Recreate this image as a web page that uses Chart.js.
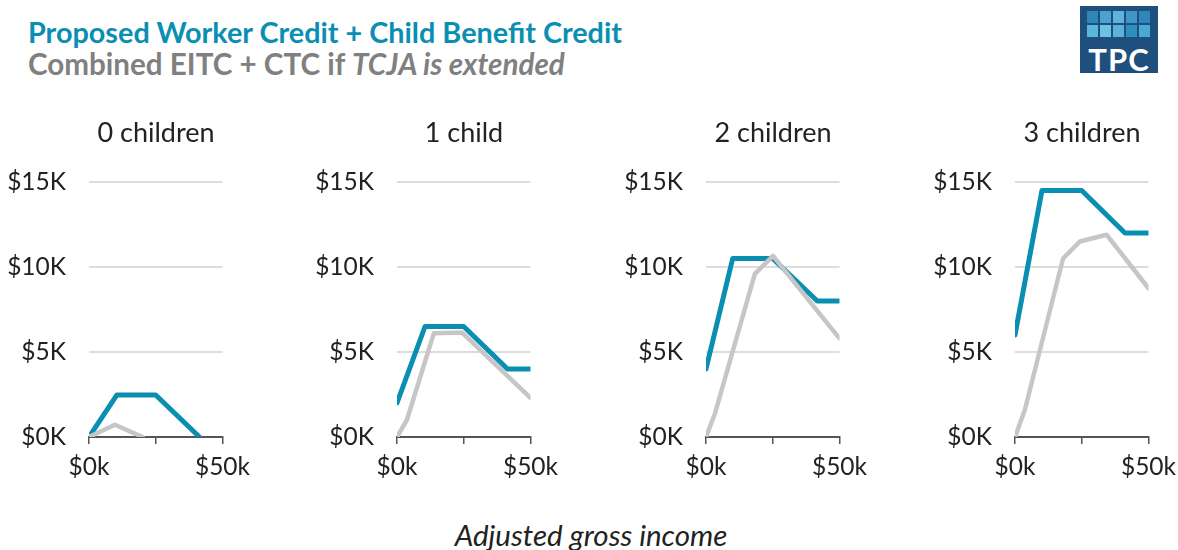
<!DOCTYPE html>
<html lang="en">
<head>
<meta charset="UTF-8">
<title>Worker Credit + Child Benefit Credit</title>
<script src="https://cdn.jsdelivr.net/npm/chart.js@4"></script>
<style>
  body { margin: 0; width: 1178px; height: 550px; overflow: hidden; background: #fff; font-family: Lato, sans-serif; position: relative; }
  .title { position: absolute; left: 28px; top: 18px; font-size: 28.8px; line-height: 1; font-weight: bold; color: #0a8fb2; white-space: nowrap; }
  .subtitle { position: absolute; left: 28px; top: 49px; font-size: 29.6px; line-height: 1; font-weight: bold; color: #808080; white-space: nowrap; }
  .panel { position: absolute; top: 100px; width: 258px; height: 390px; }
  .ptitle { position: absolute; top: 118px; width: 200px; text-align: center; font-size: 27px; line-height: 1; color: #222; }
  .xlabel { position: absolute; left: 0; width: 1182px; top: 520px; text-align: center; font-size: 29.5px; line-height: 1; font-style: italic; color: #222; }
  .logo { position: absolute; left: 1080px; top: 6px; width: 78px; height: 67px; background: #1e4f7d; }
  .logo .sq { position: absolute; width: 11px; height: 12px; }
  .logo .txt { position: absolute; left: 0; width: 78px; top: 38px; line-height: 1; text-align: center; color: #fff; font-weight: bold; font-size: 31px; letter-spacing: 1px; }
</style>
</head>
<body>
<div class="title">Proposed Worker Credit + Child Benefit Credit</div>
<div class="subtitle">Combined EITC + CTC if <i>TCJA is extended</i></div>
<div class="logo" id="logo"><div class="txt">TPC</div></div>

<div class="panel" style="left:0px"><canvas id="c0" width="258" height="390"></canvas></div>
<div class="panel" style="left:308px"><canvas id="c1" width="258" height="390"></canvas></div>
<div class="panel" style="left:617px"><canvas id="c2" width="258" height="390"></canvas></div>
<div class="panel" style="left:926px"><canvas id="c3" width="258" height="390"></canvas></div>

<div class="xlabel">Adjusted gross income</div>

<script>
// panel titles
var panelTitles = ['0 children', '1 child', '2 children', '3 children'];
var panelLeft = [0, 308, 617, 926];

// proposed worker credit + child benefit credit (blue)
var wcX0 = [0, 10400, 25000, 41400];
var wcY0 = [0, 2470, 2470, 0];
var wcX1 = [0, 10500, 25000, 41400, 50000];
var wcY1 = [2000, 6500, 6500, 4000, 4000];
var wcX2 = [0, 10000, 25000, 41700, 50000];
var wcY2 = [4000, 10500, 10500, 8000, 8000];
var wcX3 = [0, 10100, 25000, 41200, 50000];
var wcY3 = [6000, 14500, 14500, 12000, 12000];

// combined EITC + CTC if TCJA extended (gray)
var ctX0 = [0, 9700, 20100];
var ctY0 = [0, 720, 0];
var ctX1 = [0, 3700, 13800, 24300, 50000];
var ctY1 = [0, 1000, 6100, 6150, 2300];
var ctX2 = [0, 3400, 18300, 25100, 50000];
var ctY2 = [0, 1400, 9600, 10650, 5800];
var ctX3 = [0, 3700, 18000, 24300, 34300, 50000];
var ctY3 = [0, 1600, 10500, 11500, 11900, 8750];

// axis ticks
var yTicks = [0, 5000, 10000, 15000];
var xTicks = [0, 25000, 50000];

var blue = '#0a8fb2';
var gray = '#c6c6c6';

// logo squares
var sqColors = ['#2f87b9', '#4aa3cf', '#5db4da', '#3e97c5', '#2f87b9',
                '#5ab7dc', '#6cc3e0', '#5cb3d9', '#2e8fbe', '#4aa9d3'];
var logo = document.getElementById('logo');
for (var i = 0; i < sqColors.length; i++) {
    var d = document.createElement('div');
    d.className = 'sq';
    d.style.left = (7 + (i % 5) * 13) + 'px';
    d.style.top = (5 + Math.floor(i / 5) * 14) + 'px';
    d.style.background = sqColors[i];
    logo.appendChild(d);
}

function pts(xs, ys) {
    var out = [];
    for (var i = 0; i < xs.length; i++) out.push({x: xs[i], y: ys[i]});
    return out;
}

var series = [
    [wcX0, wcY0, ctX0, ctY0],
    [wcX1, wcY1, ctX1, ctY1],
    [wcX2, wcY2, ctX2, ctY2],
    [wcX3, wcY3, ctX3, ctY3]
];

var font = {family: 'Lato', size: 24.5};

for (var p = 0; p < 4; p++) {
    var s = series[p];

    // panel heading, centred over the plot area
    var t = document.createElement('div');
    t.className = 'ptitle';
    t.textContent = panelTitles[p];
    t.style.left = (panelLeft[p] + 89 + 67 - 100) + 'px';
    document.body.appendChild(t);

    new Chart(document.getElementById('c' + p), {
        type: 'line',
        data: {
            datasets: [
                {
                    label: 'Combined EITC + CTC',
                    data: pts(s[2], s[3]),
                    borderColor: gray,
                    borderWidth: 4.5,
                    pointRadius: 0,
                    borderCapStyle: 'round',
                    borderJoinStyle: 'round',
                    tension: 0,
                    order: 0
                },
                {
                    label: 'Worker Credit + Child Benefit Credit',
                    data: pts(s[0], s[1]),
                    borderColor: blue,
                    borderWidth: 5,
                    pointRadius: 0,
                    borderCapStyle: 'round',
                    borderJoinStyle: 'round',
                    tension: 0,
                    order: 1
                }
            ]
        },
        options: {
            responsive: false,
            animation: false,
            events: [],
            layout: {padding: {left: 0, right: 20, top: 82, bottom: 0}},
            plugins: {
                legend: {display: false},
                tooltip: {enabled: false},
                title: {display: false}
            },
            scales: {
                x: {
                    type: 'linear',
                    min: 0,
                    max: 50000,
                    afterBuildTicks: function (sc) { sc.ticks = xTicks.map(function (v) { return {value: v}; }); },
                    afterFit: function (sc) { sc.height = 53; },
                    ticks: {
                        autoSkip: false,
                        maxRotation: 0,
                        color: '#222',
                        font: font,
                        padding: 8,
                        callback: function (v) { return v === 25000 ? '' : '$' + (v / 1000) + 'k'; }
                    },
                    grid: {drawOnChartArea: false, drawTicks: true, tickLength: 7, color: '#555', lineWidth: 1.5},
                    border: {display: true, color: '#555', width: 2}
                },
                y: {
                    min: 0,
                    max: 15000,
                    afterBuildTicks: function (sc) { sc.ticks = yTicks.map(function (v) { return {value: v}; }); },
                    afterFit: function (sc) { sc.width = 89; },
                    ticks: {
                        color: '#222',
                        font: font,
                        padding: 23,
                        callback: function (v) { return '$' + (v / 1000) + 'K'; }
                    },
                    grid: {
                        drawTicks: false,
                        lineWidth: 2,
                        color: function (ctx) { return ctx.tick && ctx.tick.value === 0 ? 'rgba(0,0,0,0)' : '#dddddd'; }
                    },
                    border: {display: false}
                }
            }
        }
    });
}
</script>
</body>
</html>
